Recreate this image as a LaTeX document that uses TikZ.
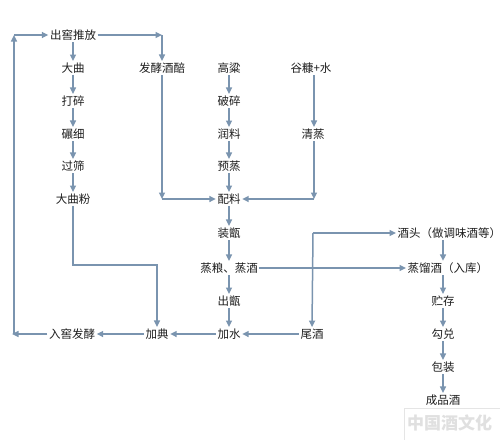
\documentclass[tikz,border=0pt]{standalone}
\usepackage{fontspec}
\setmainfont{Noto Sans CJK SC}
\usetikzlibrary{arrows.meta,calc}
\definecolor{lc}{RGB}{122,148,175}
\definecolor{tc}{RGB}{30,30,30}
\tikzset{
  lbl/.style={inner sep=1.5pt, font=\fontsize{11.5}{12}\selectfont, text=tc},
  arr/.style={draw=lc, line width=1.5pt, -{Triangle[length=6.5pt,width=6pt]}},
  ln/.style={draw=lc, line width=1.5pt}
}
\begin{document}
\begin{tikzpicture}[x=1pt,y=-1pt]
\useasboundingbox[fill=white] (0,0) rectangle (500,439);
% watermark
\draw[black!10, line width=0.6pt] (404,408) rectangle (520,445);
\node[anchor=west, inner sep=0, font=\fontsize{17}{18}\selectfont\bfseries, text=black!12] (wm) at (407,423) {中国酒文化};
% nodes
\node[lbl] (ck) at (73,35) {出窖推放};
\node[lbl] (dq) at (73,68) {大曲};
\node[lbl] (ds) at (73,101) {打碎};
\node[lbl] (nx) at (73,134) {碾细};
\node[lbl] (gs) at (73,166) {过筛};
\node[lbl] (dqf) at (73,199) {大曲粉};
\node[lbl] (fj) at (162,68) {发酵酒醅};
\node[lbl] (gl) at (229,68) {高粱};
\node[lbl] (ps) at (229,101) {破碎};
\node[lbl] (rl) at (229,134) {润料};
\node[lbl] (yz) at (229,166) {预蒸};
\node[lbl] (pl) at (229,199) {配料};
\node[lbl] (gk) at (311,68) {谷糠+水};
\node[lbl] (qz) at (313,134) {清蒸};
\node[lbl] (zz) at (229,233) {装甑};
\node[lbl] (zl) at (229,268) {蒸粮、蒸酒};
\node[lbl] (cz) at (229,301) {出甑};
\node[lbl] (js) at (229,334) {加水};
\node[lbl] (wj) at (312,334) {尾酒};
\node[lbl] (jd) at (157,334) {加典};
\node[lbl] (rk) at (72,334) {入窖发酵};
\node[lbl, anchor=west] (jt) at (396,233) {酒头（做调味酒等）};
\node[lbl, anchor=west] (zly) at (406,268) {蒸馏酒（入库）};
\node[lbl] (zc) at (443,301) {贮存};
\node[lbl] (gd) at (443,334) {勾兑};
\node[lbl] (bz) at (443,367) {包装};
\node[lbl] (cp) at (443,400) {成品酒};
% coordinates
\coordinate (BL) at (12,334);
\coordinate (BL2) at (14,334);
\coordinate (TL) at (14,35);
\coordinate (TR) at (162,35);
\coordinate (FB) at (162,199);
\coordinate (QB) at (314,199);
\coordinate (QT) at (314,75);
\coordinate (J) at (313,233);
\coordinate (D1) at (73,265);
\coordinate (D2) at (157,265);
% left column
\draw[arr] (ck) -- (dq);
\draw[arr] (dq) -- (ds);
\draw[arr] (ds) -- (nx);
\draw[arr] (nx) -- (gs);
\draw[arr] (gs) -- (dqf);
\draw[arr] (dqf.south) -- (D1) -- (D2) -- (jd.north);
% loop
\draw[arr] (rk.west) -- (BL);
\draw[arr] (BL2) -- (TL);
\draw[arr] (TL) -- (ck.west);
\draw[arr] (ck.east) -- (TR);
\draw[arr] (TR) -- (fj.north);
\draw[arr] (fj.south) -- (FB);
\draw[arr] (FB) -- (pl.west);
% middle column
\draw[arr] (gl) -- (ps);
\draw[arr] (ps) -- (rl);
\draw[arr] (rl) -- (yz);
\draw[arr] (yz) -- (pl);
\draw[arr] (QT) -- (qz.north -| QT);
\draw[arr] (qz.south -| QT) -- (QB);
\draw[arr] (QB) -- (pl.east);
\draw[arr] (pl) -- (zz);
\draw[arr] (zz) -- (zl);
\draw[arr] (zl) -- (cz);
\draw[arr] (cz) -- (js);
\draw[arr] (zl.east) -- (zly.west);
\draw[arr] (J) -- (jt.west);
\draw[arr] (J) -- (wj.north);
\draw[arr] (wj) -- (js);
\draw[arr] (js) -- (jd);
\draw[arr] (jd) -- (rk);
% right column
\draw[arr] (jt.south -| zc) -- (zly.north -| zc);
\draw[arr] (zly.south -| zc) -- (zc.north);
\draw[arr] (zc) -- (gd);
\draw[arr] (gd) -- (bz);
\draw[arr] (bz) -- (cp);
\end{tikzpicture}
\end{document}
